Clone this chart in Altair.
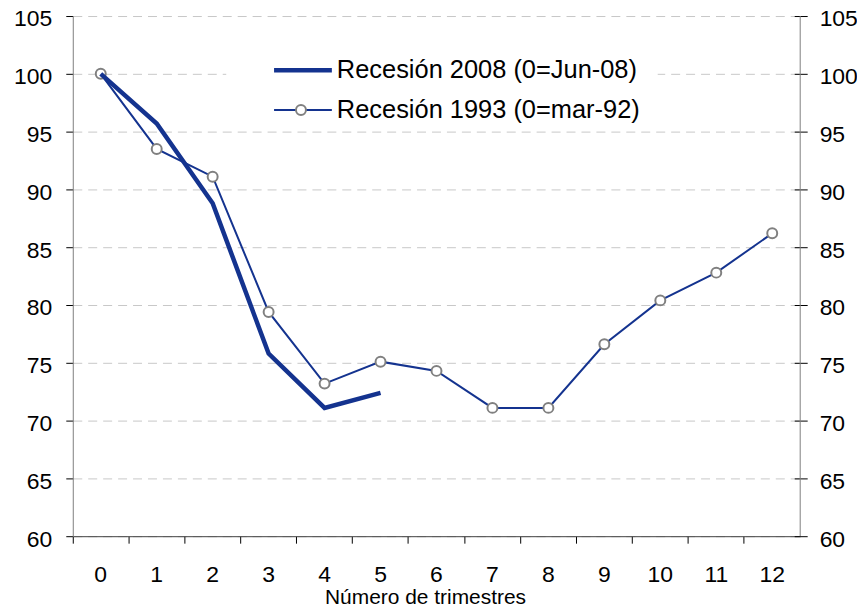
import altair as alt
import pandas as pd

# Data
quarters_2008 = [0, 1, 2, 3, 4, 5]
values_2008 = [100.0, 95.7, 88.8, 75.8, 71.1, 72.4]
quarters_1993 = [0, 1, 2, 3, 4, 5, 6, 7, 8, 9, 10, 11, 12]
values_1993 = [100.0, 93.5, 91.1, 79.4, 73.2, 75.1, 74.3, 71.1, 71.1, 76.6, 80.4, 82.8, 86.2]
y_ticks = [60, 65, 70, 75, 80, 85, 90, 95, 100, 105]
x_categories = list(range(13))
label_2008 = "Recesión 2008 (0=Jun-08)"
label_1993 = "Recesión 1993 (0=mar-92)"
x_title = "Número de trimestres"

df08 = pd.DataFrame({"t": quarters_2008, "v": values_2008})
df93 = pd.DataFrame({"t": quarters_1993, "v": values_1993})
one = pd.DataFrame({"a": [0]})

FONT = "Liberation Sans"
NAVY = "#14338f"
W, H = 730, 522

xenc = alt.X(
    "t:O",
    scale=alt.Scale(type="band", domain=x_categories, paddingInner=0, paddingOuter=0),
    axis=alt.Axis(
        title=x_title, labelAngle=0, bandPosition=0, tickSize=7, tickColor="#000000",
        domainColor="#404040", labelFont=FONT, labelFontSize=23, labelColor="#000000",
        labelPadding=20, grid=False, titleFont=FONT, titleFontSize=21,
        titleFontWeight="normal", titleColor="#000000", titleX=353.5, titleY=67.5,
        titleBaseline="alphabetic", titleAlign="center",
    ),
)
yscale = alt.Scale(domain=[60, 105], nice=False, zero=False)

bg = alt.Chart(one).mark_rect(color="white").encode(
    x=alt.value(154), x2=alt.value(587), y=alt.value(10), y2=alt.value(110)
)

line93 = alt.Chart(df93).mark_line(color=NAVY, strokeWidth=2).encode(
    x=xenc,
    y=alt.Y("v:Q", scale=yscale, axis=alt.Axis(
        orient="left", values=y_ticks, title=None, grid=True, gridDash=[9, 6],
        gridColor="#c8c8c8", gridWidth=1, domainColor="#808080", tickColor="#000000",
        tickSize=7, labelFont=FONT, labelFontSize=23, labelColor="#000000",
        labelPadding=14, labelOffset=3,
    )),
)

pts93 = alt.Chart(df93).mark_point(
    shape="circle", filled=False, fill="white", fillOpacity=1, stroke="#808080",
    strokeWidth=2, size=100, opacity=1,
).encode(
    x=xenc,
    y=alt.Y("v:Q", scale=yscale, axis=alt.Axis(
        orient="right", values=y_ticks, title=None, grid=False, domain=False,
        offset=-6, tickSize=13, tickColor="#000000", labelFont=FONT,
        labelFontSize=23, labelColor="#000000", labelPadding=12, labelOffset=3,
    )),
)

line08 = alt.Chart(df08).mark_line(color=NAVY, strokeWidth=4.5).encode(
    x=xenc,
    y=alt.Y("v:Q", scale=yscale, axis=None),
)

right_dom = alt.Chart(one).mark_rule(color="#808080", strokeWidth=1).encode(
    x=alt.value(W), y=alt.value(0), y2=alt.value(H)
)

leg1 = alt.Chart(one).mark_rule(color=NAVY, strokeWidth=4.5).encode(
    x=alt.value(202), x2=alt.value(260), y=alt.value(54.3)
)
leg2 = alt.Chart(one).mark_rule(color=NAVY, strokeWidth=2).encode(
    x=alt.value(202), x2=alt.value(260), y=alt.value(94.3)
)
leg2p = alt.Chart(one).mark_point(
    shape="circle", filled=False, fill="white", fillOpacity=1, stroke="#808080",
    strokeWidth=2, size=100, opacity=1,
).encode(x=alt.value(229), y=alt.value(94.3))
txt1 = alt.Chart(one).mark_text(
    text=label_2008, font=FONT, fontSize=25.5, align="left", baseline="middle", color="#000000"
).encode(x=alt.value(265), y=alt.value(54))
txt2 = alt.Chart(one).mark_text(
    text=label_1993, font=FONT, fontSize=25.5, align="left", baseline="middle", color="#000000"
).encode(x=alt.value(265), y=alt.value(94))

chart = (
    alt.layer(bg, line93, pts93, line08, right_dom, leg1, leg2, leg2p, txt1, txt2)
    .resolve_scale(y="independent")
    .properties(
        width=W, height=H,
        autosize=alt.AutoSizeParams(type="none"),
        padding={"left": 65, "top": 7, "right": 57, "bottom": 70},
        background="white",
    )
    .configure_view(stroke=None)
)

chart.save("out.html", embed_options={"renderer": "svg", "actions": False})
